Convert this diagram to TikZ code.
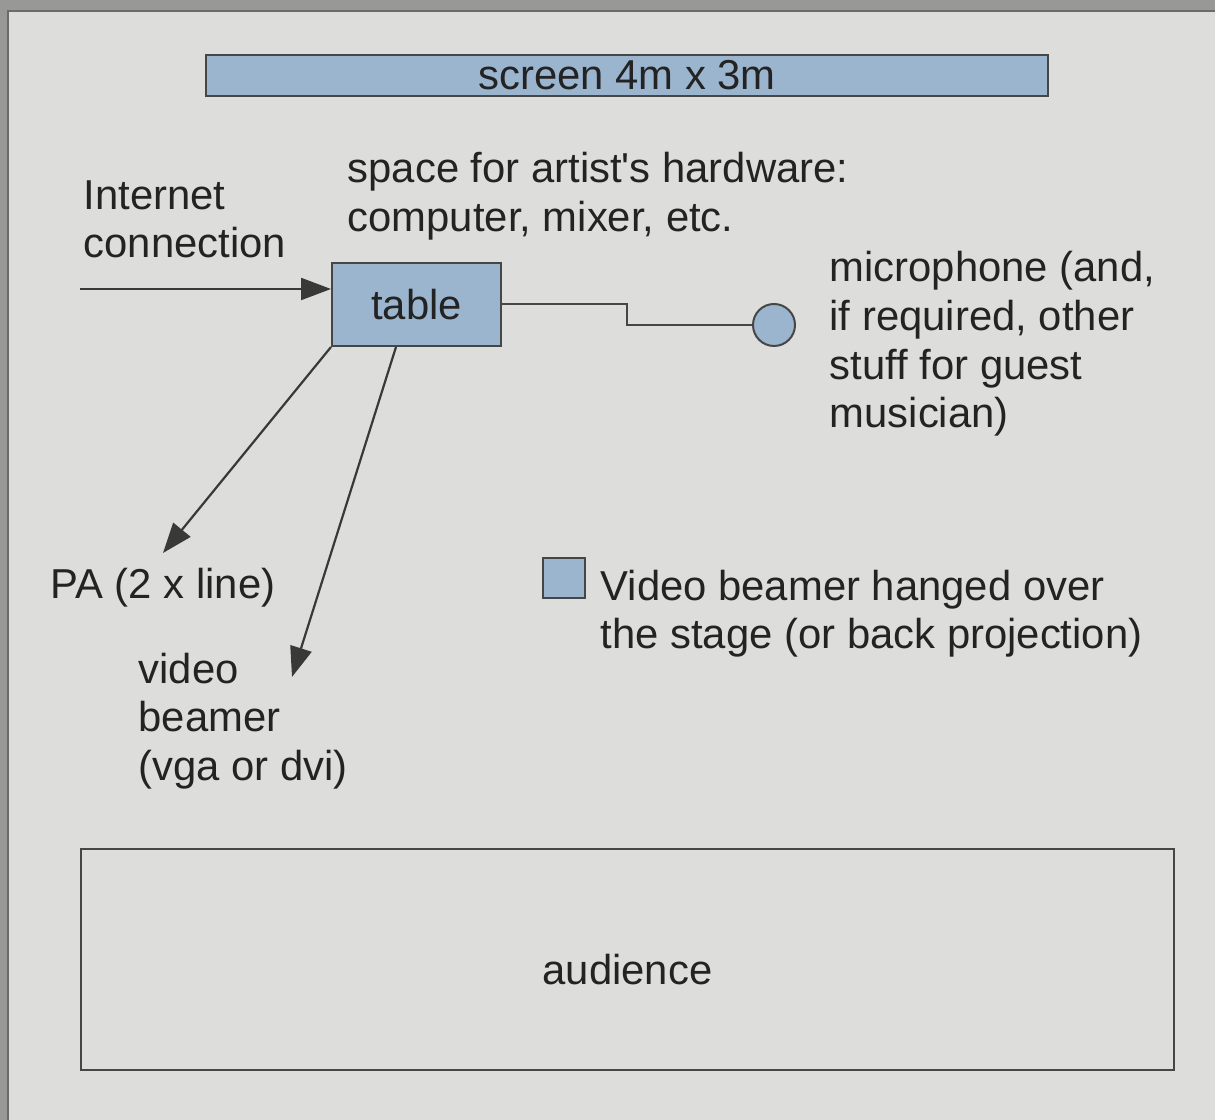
\documentclass[tikz,border=0pt]{standalone}
\usepackage{fontspec}
\setmainfont{Liberation Sans}[Ligatures=TeXOff]
\usepackage{tikz}
\usetikzlibrary{arrows.meta, calc, positioning}
\definecolor{stagebg}{RGB}{221,221,219}
\definecolor{framegray}{RGB}{152,152,150}
\definecolor{boxblue}{RGB}{155,181,207}
\definecolor{linegray}{RGB}{70,70,70}
\definecolor{inkgray}{RGB}{35,35,35}

\begin{document}
\begin{tikzpicture}[
    font=\fontsize{11.9}{13.8}\selectfont,
    bluebox/.style={draw=linegray, fill=boxblue, line width=0.02cm, inner sep=0pt, text=inkgray},
    wire/.style={draw=linegray, line width=0.02cm},
    sig/.style={draw=inkgray!90, line width=0.022cm, -{Triangle[length=0.3cm, width=0.22cm]}},
    note/.style={anchor=north west, align=left, inner sep=0pt, text=inkgray}
]
    % frame and background
    \useasboundingbox (0,0) rectangle (12.15,11.2);
    \fill[stagebg] (0,0) rectangle (12.15,11.2);
    \fill[framegray] (0,11.09) rectangle (12.15,11.2);
    \fill[framegray] (0,0) rectangle (0.08,11.2);
    \draw[linegray!80, line width=0.015cm] (0.08,0) -- (0.08,11.09) -- (12.15,11.09);

    % screen, table and microphone
    \node[bluebox, minimum width=8.42cm, minimum height=0.41cm] (screen) at (6.27,10.445) {screen 4m x 3m};
    \node[bluebox, minimum width=1.69cm, minimum height=0.83cm] (table) at (4.165,8.155) {table};
    \node[bluebox, circle, minimum size=0.42cm] (mic) at (7.74,7.95) {};

    % connections
    \coordinate (inet) at (0.80,8.31);
    \coordinate (bend) at (6.27,7.95);
    \coordinate (paend) at (1.63,5.67);
    \coordinate (vbend) at (2.92,4.43);
    \draw[sig] (inet) -- (inet -| table.west);
    \draw[wire] (table.east) -- (table.east -| bend) |- (mic.west);
    \draw[sig] (table.south west) -- (paend);
    \draw[sig] ([xshift=0.65cm]table.south west) -- (vbend);

    % labels
    \node[note] (inettxt) at (0.83,9.40) {Internet\\connection};
    \node[note] (hwtxt) at (3.47,9.68) {space for artist's hardware:\\computer, mixer, etc.};
    \node[note] (mictxt) at (8.29,8.69) {microphone (and,\\if required, other\\stuff for guest\\musician)};
    \node[note] (patxt) at (0.50,5.52) {PA (2 x line)};
    \node[note] (vbtxt) at (1.38,4.68) {video\\beamer\\(vga or dvi)};

    % legend
    \node[bluebox, minimum width=0.42cm, minimum height=0.40cm] (key) at (5.64,5.42) {};
    \node[note] (keytxt) at (6.00,5.51) {Video beamer hanged over\\the stage (or back projection)};

    % audience
    \node[draw=linegray, line width=0.025cm, minimum width=10.93cm, minimum height=2.21cm] (audience) at (6.275,1.605) {};
    \node[text=inkgray] (audtxt) at ([yshift=-0.1cm]audience.center) {audience};
\end{tikzpicture}
\end{document}
